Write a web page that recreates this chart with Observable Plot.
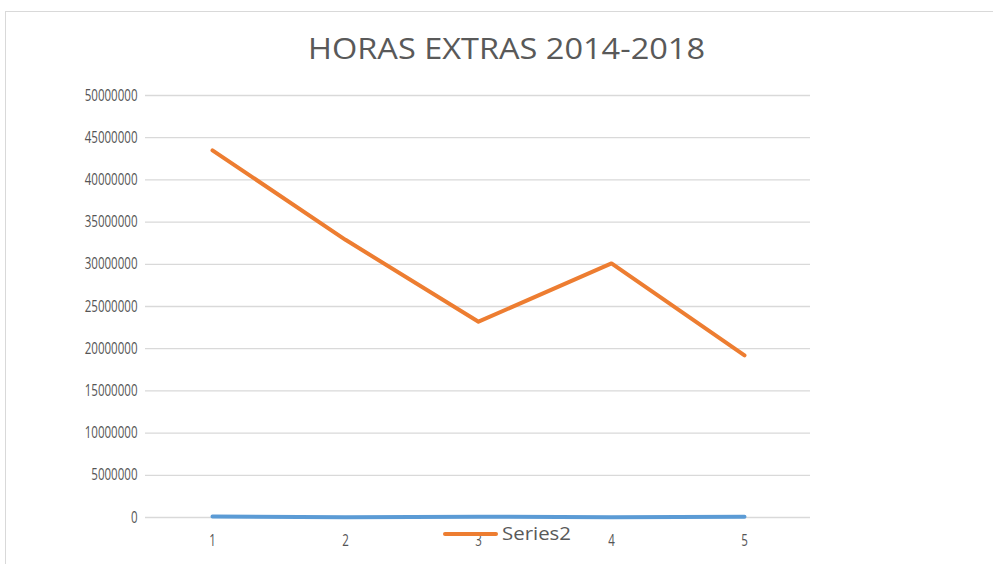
<!DOCTYPE html>
<html>
<head>
<meta charset="utf-8">
<script src="https://cdn.jsdelivr.net/npm/d3@7"></script>
<script src="https://cdn.jsdelivr.net/npm/@observablehq/plot@0.6"></script>
<style>
  html, body { margin: 0; padding: 0; background: #fff; }
  #wrap { position: relative; width: 993px; height: 564px; overflow: hidden; font-family: "Open Sans", "Liberation Sans", sans-serif; }
  #frame { position: absolute; left: 5px; top: 11px; width: 1100px; height: 700px; border: 1.5px solid #d9d9d9; box-sizing: border-box; }
  #title { position: absolute; left: 308px; top: 33px; white-space: nowrap; font-size: 29px; line-height: 29px; color: #595959; transform-origin: left top; }
  #chart { position: absolute; left: 0; top: 0; }
  #legend-line { position: absolute; left: 443px; top: 532px; width: 55px; height: 4px; background: #ED7D31; border-radius: 2px; }
  #legend-text { position: absolute; left: 502px; top: 524px; font-size: 18px; line-height: 18px; color: #595959; white-space: nowrap; transform-origin: left top; }
</style>
</head>
<body>
<div id="wrap">
  <div id="frame"></div>
  <div id="chart"></div>
  <div id="title">HORAS EXTRAS 2014-2018</div>
  <div id="legend-line"></div>
  <div id="legend-text">Series2</div>
</div>
<script>
const categories = [1, 2, 3, 4, 5];
const series1 = [120000, 40000, 100000, 30000, 90000];
const series2 = [43500000, 32900000, 23200000, 30100000, 19200000];
const yTicks = [0, 5000000, 10000000, 15000000, 20000000, 25000000, 30000000, 35000000, 40000000, 45000000, 50000000];
const seriesName = "Series2";
const titleText = "HORAS EXTRAS 2014-2018";

const s1 = categories.map((c, i) => ({x: c, y: series1[i]}));
const s2 = categories.map((c, i) => ({x: c, y: series2[i]}));

const chart = Plot.plot({
  width: 993,
  height: 564,
  marginLeft: 145,
  marginRight: 183,
  marginTop: 95,
  marginBottom: 47,
  style: { fontFamily: "Open Sans, Liberation Sans, sans-serif", fontSize: "16px", color: "#595959", background: "transparent" },
  x: { type: "point", domain: categories, padding: 0.5, label: null },
  y: { domain: [0, 50000000], label: null },
  marks: [
    Plot.gridY(yTicks, { stroke: "#d9d9d9", strokeOpacity: 1, strokeWidth: 1.3 }),
    Plot.axisY({ ticks: yTicks, tickSize: 0, tickPadding: 8, tickFormat: d => String(d), fill: "#555" }),
    Plot.axisX({ tickSize: 0, tickPadding: 17, fill: "#555" }),
    Plot.line(s1, { x: "x", y: "y", stroke: "#5B9BD5", strokeWidth: 4, strokeLinecap: "round", strokeLinejoin: "round" }),
    Plot.line(s2, { x: "x", y: "y", stroke: "#ED7D31", strokeWidth: 4, strokeLinecap: "round", strokeLinejoin: "round" })
  ]
});
document.getElementById("chart").appendChild(chart);

// narrow the digits to match the reference's condensed face
d3.select(chart).selectAll("text").each(function () {
  const t = this.textContent;
  if (/^\d+$/.test(t)) {
    this.style.fontSize = "16px";
    const w = this.getComputedTextLength();
    const target = t.length * 6.6;
    const k = target / w;
    const anchor = this.getAttribute("text-anchor") || getComputedStyle(this).textAnchor;
    const bb = this.getBBox();
    const ax = anchor === "end" ? bb.x + bb.width : anchor === "middle" ? bb.x + bb.width / 2 : bb.x;
    const prev = this.getAttribute("transform") || "";
    this.setAttribute("transform", `${prev} translate(${ax},0) scale(${k},1) translate(${-ax},0)`);
  }
});

const title = document.getElementById("title");
title.textContent = titleText;
title.style.transform = `scaleX(${397 / title.getBoundingClientRect().width})`;
const lt = document.getElementById("legend-text");
lt.textContent = seriesName;
lt.style.transform = `scaleX(${69 / lt.getBoundingClientRect().width})`;
</script>
</body>
</html>
